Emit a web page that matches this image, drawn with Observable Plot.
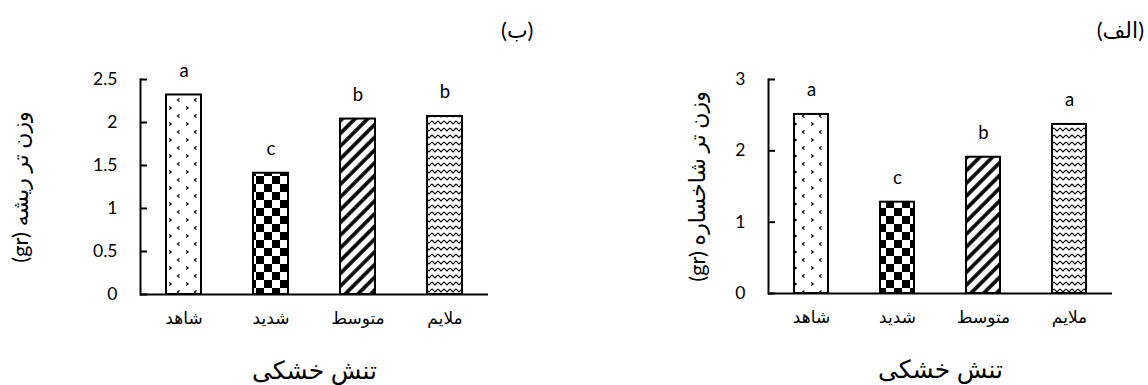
<!DOCTYPE html>
<html><head><meta charset="utf-8">
<script src="https://cdn.jsdelivr.net/npm/d3@7"></script>
<script src="https://cdn.jsdelivr.net/npm/@observablehq/plot@0.6"></script>
<style>
body{margin:0;background:#fff;width:1148px;height:385px;position:relative;overflow:hidden;font-family:Lato,"DejaVu Sans",sans-serif;}
.panel{position:absolute;top:0;}
.tag{position:absolute;top:16px;font-size:22px;line-height:28px;color:#000;white-space:nowrap;}
</style></head><body>
<svg width="0" height="0" style="position:absolute;left:0;top:0">
  <defs>
    <pattern id="pDots" patternUnits="userSpaceOnUse" width="17" height="16">
      <rect width="17" height="16" fill="#fff"/>
      <path d="M9.5,2.4 l-2,1.5 l2,1.5 M-0.8,10.4 l2,1.5 l-2,1.5 M16.2,10.4 l2,1.5 l-2,1.5" fill="none" stroke="#000" stroke-width="1.2"/>
    </pattern>
    <pattern id="pCheck" patternUnits="userSpaceOnUse" width="16" height="16">
      <rect width="16" height="16" fill="#fff"/>
      <rect x="0" y="0" width="8" height="8" fill="#000"/>
      <rect x="8" y="8" width="8" height="8" fill="#000"/>
    </pattern>
    <pattern id="pStripe" patternUnits="userSpaceOnUse" width="9" height="9" patternTransform="rotate(45)">
      <rect width="9" height="9" fill="#fff"/>
      <line x1="2" y1="0" x2="2" y2="9" stroke="#000" stroke-width="3.6"/>
    </pattern>
    <pattern id="pZig" patternUnits="userSpaceOnUse" width="6" height="7">
      <rect width="6" height="7" fill="#fff"/>
      <path d="M0,2 L3,5 L6,2" fill="none" stroke="#000" stroke-width="1.1"/>
    </pattern>
  </defs>
</svg>
<div id="left" class="panel" style="left:0"></div>
<div id="right" class="panel" style="left:574px"></div>
<div class="tag" style="left:501px">(ب)</div>
<div class="tag" style="right:4px">(الف)</div>
<script>
const categories = ["شاهد", "شدید", "متوسط", "ملایم"];
const patterns = ["url(#pDots)", "url(#pCheck)", "url(#pStripe)", "url(#pZig)"];

const rootWeight = [2.32, 1.41, 2.04, 2.07];
const rootLetters = ["a", "c", "b", "b"];
const rootTicks = [0, 0.5, 1, 1.5, 2, 2.5];
const rootLabel = "(gr) وزن تر ریشه";

const shootWeight = [2.51, 1.28, 1.91, 2.37];
const shootLetters = ["a", "c", "b", "a"];
const shootTicks = [0, 1, 2, 3];
const shootLabel = "(gr) وزن تر شاخساره";

const xTitle = "تنش خشکی";

function chart(values, letters, ticks, yLabel, m) {
  const data = categories.map((c, i) => ({cat: c, v: values[i], l: letters[i]}));
  const svg = Plot.plot({
    width: 574, height: 385,
    marginLeft: m.ml, marginRight: m.mr, marginTop: 79, marginBottom: m.mb,
    style: {fontFamily: 'Lato, "DejaVu Sans", sans-serif', fontSize: "16px", color: "#000", background: "transparent", overflow: "visible"},
    x: {domain: categories, paddingInner: 0.6, paddingOuter: 0.3},
    y: {domain: [ticks[0], ticks[ticks.length - 1]]},
    color: {type: "ordinal", domain: categories, range: patterns},
    marks: [
      Plot.barY(data, {x: "cat", y: "v", fill: "cat", stroke: "#000", strokeWidth: 2}),
      Plot.text(data, {x: "cat", y: "v", text: "l", dy: -24, fontSize: 18.5}),
      Plot.ruleY([0], {strokeWidth: 2}),
      Plot.frame({anchor: "left", strokeWidth: 2}),
      Plot.axisY(ticks, {tickSize: 7, dx: 7, strokeWidth: 2, tickFormat: () => "", label: null}),
      Plot.axisY(ticks, {tickSize: 0, tickPadding: 23, fontSize: 17.5, tickFormat: d => String(d),
        label: yLabel, labelAnchor: "center", labelArrow: "none", labelOffset: m.lo}),
      Plot.axisX({tickSize: 0, tickPadding: 17, fontSize: 17, label: null}),
      Plot.axisX({tickSize: 0, tickFormat: () => "", label: xTitle,
        labelAnchor: "center", labelArrow: "none", labelOffset: 84})
    ]
  });
  d3.select(svg).selectAll('g[aria-label="y-axis label"], g[aria-label="y-axis label"] text')
    .attr("font-size", 22).style("font-size", "22px");
  d3.select(svg).selectAll('g[aria-label="x-axis label"], g[aria-label="x-axis label"] text')
    .attr("font-size", 25).style("font-size", "25px");
  return svg;
}

document.getElementById("left").append(chart(rootWeight, rootLetters, rootTicks, rootLabel, {ml: 140, mr: 86, mb: 91, lo: 128}));
document.getElementById("right").append(chart(shootWeight, shootLetters, shootTicks, shootLabel, {ml: 194, mr: 36, mb: 92, lo: 79}));
</script>
</body></html>
